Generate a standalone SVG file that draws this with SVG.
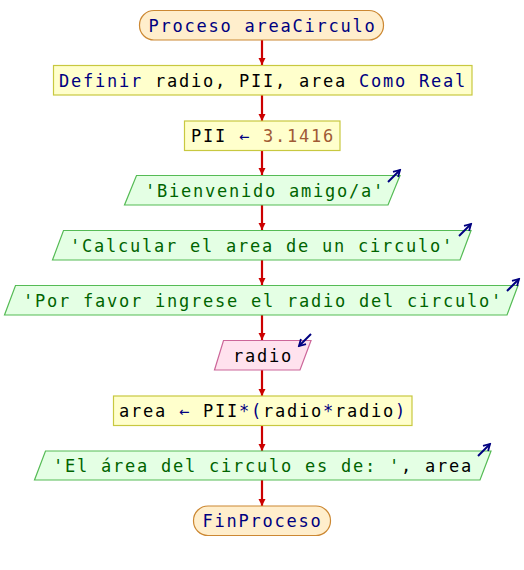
<svg xmlns="http://www.w3.org/2000/svg" width="524" height="570" viewBox="0 0 524 570">
<defs>
<marker id="ah" viewBox="0 0 10 10" refX="10" refY="5" markerWidth="7" markerHeight="10" markerUnits="userSpaceOnUse" orient="auto"><path d="M0,0 L10,5 L0,10 z" fill="#cc0000"/></marker>
<marker id="ic" viewBox="0 0 10 10" refX="8" refY="5" markerWidth="9" markerHeight="9" markerUnits="userSpaceOnUse" orient="auto"><path d="M1,1 L8,5 L1,9" fill="none" stroke="#000080" stroke-width="2"/></marker>
<style>
text{font-family:"DejaVu Sans Mono","Liberation Mono",monospace;font-size:17px;letter-spacing:1.77px;text-anchor:middle}
.term{fill:#ffeecc;stroke:#cc8833;stroke-width:1.2}
.proc{fill:#ffffcc;stroke:#c8c840;stroke-width:1.2}
.out{fill:#e4ffe4;stroke:#55bb55;stroke-width:1.2}
.in{fill:#ffe2ee;stroke:#cc6699;stroke-width:1.2}
.kw{fill:#000080}
.st{fill:#006400}
.nm{fill:#a05a35}
.bk{fill:#000000}
.icon{stroke:#000080;stroke-width:2;fill:none;marker-end:url(#ic)}
.c{stroke:#cc0000;stroke-width:2.2;fill:none;marker-end:url(#ah)}
</style>
</defs>
<g id="connectors">
<line class="c" x1="262" y1="40" x2="262" y2="65"/>
<line class="c" x1="262" y1="95" x2="262" y2="121"/>
<line class="c" x1="262" y1="150" x2="262" y2="175"/>
<line class="c" x1="262" y1="205" x2="262" y2="230"/>
<line class="c" x1="262" y1="260" x2="262" y2="285"/>
<line class="c" x1="262" y1="315" x2="262" y2="340"/>
<line class="c" x1="262" y1="370" x2="262" y2="396"/>
<line class="c" x1="262" y1="425" x2="262" y2="451"/>
<line class="c" x1="262" y1="480" x2="262" y2="506"/>
</g>
<g id="start">
<rect class="term" x="139.5" y="10.5" width="244" height="29.5" rx="14.5"/>
<text x="262.5" y="31.5" class="kw">Proceso areaCirculo</text>
</g>
<g id="definir">
<rect class="proc" x="53.5" y="65.5" width="418.5" height="29.5"/>
<text x="263" y="86.5"><tspan class="kw">Definir</tspan><tspan class="bk"> radio, PII, area </tspan><tspan class="kw">Como Real</tspan></text>
</g>
<g id="asignPII">
<rect class="proc" x="184.5" y="121" width="155.5" height="29.5"/>
<text x="263" y="142"><tspan class="bk">PII </tspan><tspan class="kw">←</tspan><tspan class="bk"> </tspan><tspan class="nm">3.1416</tspan></text>
</g>
<g id="out1">
<polygon class="out" points="136.5,175.5 400,175.5 388,205 124.5,205"/>
<text x="265" y="197" class="st">'Bienvenido amigo/a'</text>
<line class="icon" x1="388" y1="182" x2="400" y2="170"/>
</g>
<g id="out2">
<polygon class="out" points="63.5,230.5 471,230.5 460,260 52.5,260"/>
<text x="262" y="252" class="st">'Calcular el area de un circulo'</text>
<line class="icon" x1="459" y1="236" x2="471" y2="224"/>
</g>
<g id="out3">
<polygon class="out" points="15.5,285.5 518,285.5 507,315 4.5,315"/>
<text x="263" y="307" class="st">'Por favor ingrese el radio del circulo'</text>
<line class="icon" x1="507" y1="291" x2="519" y2="279"/>
</g>
<g id="leerRadio">
<polygon class="in" points="223.5,340.5 311,340.5 300,370 214.5,370"/>
<text x="263" y="362" class="bk">radio</text>
<line class="icon" x1="311" y1="334" x2="299" y2="346"/>
</g>
<g id="asignArea">
<rect class="proc" x="113.5" y="396" width="298.5" height="29.5"/>
<text x="263" y="417"><tspan class="bk">area </tspan><tspan class="kw">←</tspan><tspan class="bk"> PII</tspan><tspan class="kw">*(</tspan><tspan class="bk">radio</tspan><tspan class="kw">*</tspan><tspan class="bk">radio</tspan><tspan class="kw">)</tspan></text>
</g>
<g id="out4">
<polygon class="out" points="45.5,451 491,451 480,480 34.5,480"/>
<text x="263" y="472"><tspan class="st">'El área del circulo es de: '</tspan><tspan class="bk">, area</tspan></text>
<line class="icon" x1="478" y1="456" x2="490" y2="444"/>
</g>
<g id="end">
<rect class="term" x="193.5" y="506" width="137" height="29.5" rx="14.5"/>
<text x="262.5" y="527" class="kw">FinProceso</text>
</g>
</svg>
